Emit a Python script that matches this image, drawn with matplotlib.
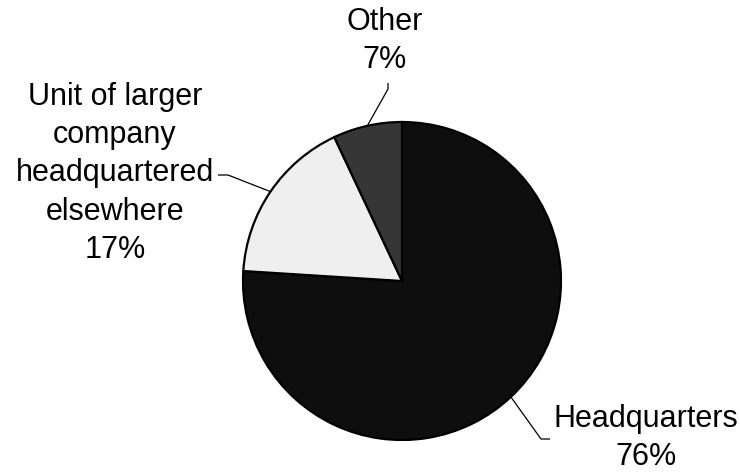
import numpy as np
import matplotlib
matplotlib.use("Agg")
import matplotlib.pyplot as plt

plt.rcParams['font.family'] = ['Liberation Sans', 'DejaVu Sans']

# Data
categories = ["Headquarters", "Unit of larger\ncompany\nheadquartered\nelsewhere", "Other"]
shares = [76, 17, 7]
colors = ["#0e0e0e", "#efefef", "#363636"]

W, H = 740, 472
fig = plt.figure(figsize=(W / 100, H / 100), dpi=100)
ax = fig.add_axes([0, 0, 1, 1])

cx, cy, R = 402, H - 281, 159
wedges, _ = ax.pie(shares, colors=colors, startangle=90, counterclock=False,
                   center=(cx, cy), radius=R, frame=True,
                   wedgeprops=dict(edgecolor='black', linewidth=1.6))
ax.set_xlim(0, W)
ax.set_ylim(0, H)
ax.set_aspect('equal')
ax.axis('off')

# label layout (pixel coords from top): text anchor (last-line baseline), knee, end of leader
layout = {
    0: dict(text=(646, 465), knee=(541, 439), end=(550, 439)),
    1: dict(text=(115, 258), knee=(228, 175), end=(218, 175)),
    2: dict(text=(385, 68), knee=(388, 89), end=(388, 83)),
}

for i, w in enumerate(wedges):
    mid = np.deg2rad((w.theta1 + w.theta2) / 2)
    ex, ey = cx + R * np.cos(mid), cy + R * np.sin(mid)
    L = layout[i]
    xs = [ex, L['knee'][0], L['end'][0]]
    ys = [ey, H - L['knee'][1], H - L['end'][1]]
    ax.plot(xs, ys, color='black', lw=0.9, solid_capstyle='butt')
    ax.text(L['text'][0], H - L['text'][1], f"{categories[i]}\n{shares[i]}%",
            ha='center', va='baseline', multialignment='center',
            fontsize=22, linespacing=1.36, color='black')

fig.savefig("out.png", dpi=100)
